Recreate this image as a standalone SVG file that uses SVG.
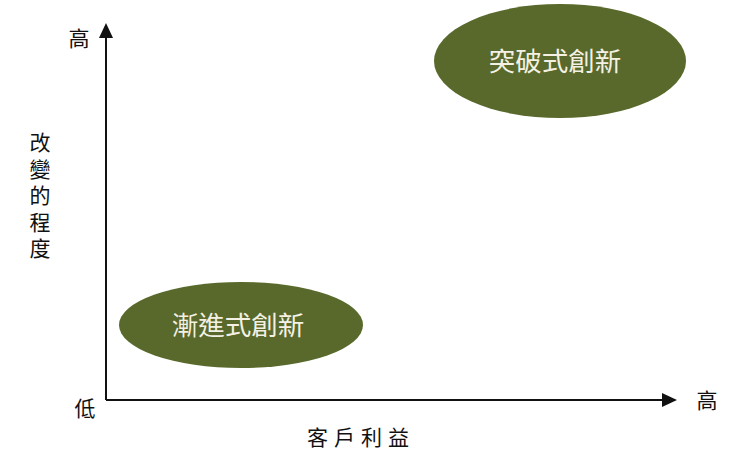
<svg xmlns="http://www.w3.org/2000/svg" width="740" height="467" viewBox="0 0 740 467">
<style>
.ax{stroke:#111;stroke-width:2;fill:none}
.lbl{font-family:"Noto Sans CJK TC","Noto Sans CJK SC",sans-serif;font-size:21px;fill:#111}
.node ellipse{fill:#58692b}
.node text{font-family:"Noto Sans CJK TC","Noto Sans CJK SC",sans-serif;font-size:26.5px;fill:#f4f1e4;text-anchor:middle}
</style>
<rect width="740" height="467" fill="#fff"/>
<g id="connectors">
<path class="ax" d="M106,400 V38"/>
<path class="ax" d="M106,400 H662"/>
<polygon points="106,23 99,38 113,38" fill="#111"/>
<polygon points="677,400 662,393 662,407" fill="#111"/>
</g>
<g id="axis-labels">
<text class="lbl" x="79" y="46" text-anchor="middle">高</text>
<text class="lbl" x="85" y="416" text-anchor="middle">低</text>
<text class="lbl" x="707" y="408" text-anchor="middle">高</text>
<text class="lbl" x="40" y="132" writing-mode="vertical-rl" letter-spacing="5.5">改變的程度</text>
<text class="lbl" x="307" y="445" letter-spacing="6">客戶利益</text>
</g>
<g id="node-breakthrough" class="node">
<ellipse cx="560" cy="61" rx="126" ry="57"/>
<text x="555" y="71">突破式創新</text>
</g>
<g id="node-incremental" class="node">
<ellipse cx="241" cy="325" rx="122" ry="43"/>
<text x="238" y="335">漸進式創新</text>
</g>
</svg>
